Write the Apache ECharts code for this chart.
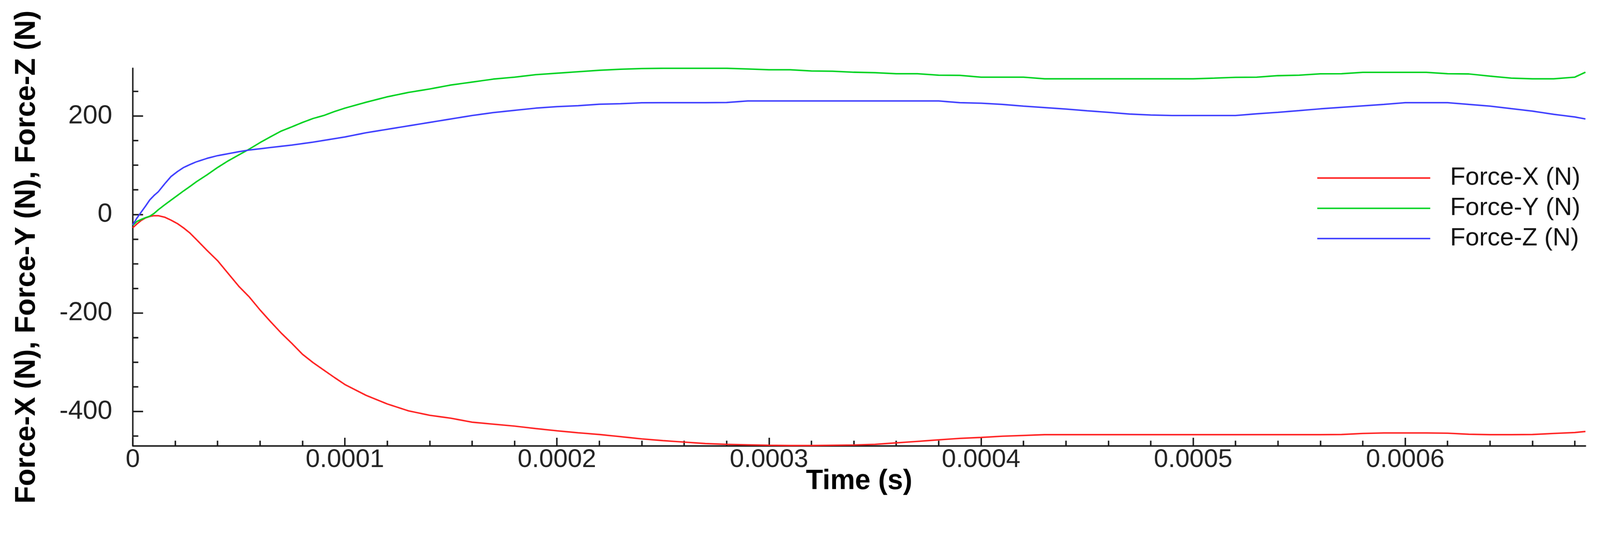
<!DOCTYPE html>
<html>
<head>
<meta charset="utf-8">
<script src="https://cdn.jsdelivr.net/npm/echarts@6/dist/echarts.min.js"></script>
<style>
html,body{margin:0;padding:0;background:#fff;overflow:hidden;}
#chart{width:4362px;height:1402px;transform-origin:0 0;}
</style>
</head>
<body>
<div id="chart"></div>
<script>
// time in microseconds (converted to seconds below)
const timeUs = [0,2,4,6,8,10,12,15,18,21,24,27,30,35,40,45,50,55,60,65,70,75,80,85,90,95,100,
110,120,130,140,150,160,170,180,190,200,210,220,230,240,250,260,270,280,290,300,310,320,330,340,350,
360,370,380,390,400,410,420,430,440,450,460,470,480,490,500,510,520,530,540,550,560,570,580,590,600,
610,620,630,640,650,660,670,680,685];

const forceX = [-27,-19,-12,-7,-4,-2.5,-2.5,-5.5,-11.5,-18.5,-27.5,-38,-51,-73,-94,-120,-146,-168,-194,-218,-241,-262,-284,-301,-316,-331,-345.5,
-367.5,-385,-399,-408,-414,-422,-426,-430,-435,-439.5,-443.5,-447,-451.5,-456,-459.5,-462.5,-465.5,-467,-468,-469,-469.5,-469.5,-469,-468.5,-467,
-464,-461,-458,-455,-453,-450.5,-449,-447.5,-447.5,-447.5,-447.5,-447.5,-447.5,-447.5,-447.5,-447.5,-447.5,-447.5,-447.5,-447.5,-447.5,-447,-445,-444,-444,
-444,-444.5,-446.5,-447.5,-447.5,-447,-445,-443,-441];

const forceY = [-22,-14,-10,-6.5,-3.5,2,9.5,19.5,29,38.5,48,57,66.5,80.5,95.5,109,121,133,146,158,169.5,178,187,195,201,209,216,
228,239,248,255,263,269,275,279,284,287,290,293,295,296.5,297,297,297,297,295.5,294,294,291.5,291,289,288,
286,286,283,282.6,279,279,279,275.6,275.6,275.6,275.6,275.6,275.6,275.6,275.6,277,278.6,279,282,283,285.7,286,288.7,288.7,288.7,
288.7,286,285.5,281,277,275.6,275.6,279,289];

const forceZ = [-21,-7,5,17,29.5,38.5,46,62,77,87,95.5,101.5,107,114,119.5,123.5,127.5,131,133.5,136,138.5,141,144,147,150.5,154,157.5,
166,173,180,187,194,201,207,211.5,216,219,221,224,225,227,227.2,227.2,227.2,227.5,230.7,230.7,230.7,230.7,230.7,230.7,230.7,
230.7,230.7,230.7,227.2,226,223.6,220.1,217.1,214.1,210.6,207.5,204,202,201,201,201,201,204.5,207.5,211,214.6,217.6,220.6,223.6,227.2,
227.2,227.2,223.6,220.1,215,210,203.5,198,194];

const seriesNames = ['Force-X (N)', 'Force-Y (N)', 'Force-Z (N)'];
const xMajorTicks = [0, 0.0001, 0.0002, 0.0003, 0.0004, 0.0005, 0.0006];
const xMinorTicks = [0.00002,0.00004,0.00006,0.00008,0.00012,0.00014,0.00016,0.00018,0.00022,0.00024,0.00026,0.00028,
0.00032,0.00034,0.00036,0.00038,0.00042,0.00044,0.00046,0.00048,0.00052,0.00054,0.00056,0.00058,0.00062,0.00064,0.00066,0.00068];
const yMajorTicks = [-400, -200, 0, 200];
const yMinorTicks = [-450,-350,-300,-250,-150,-100,-50,50,100,150,250];

const timeSec = timeUs.map(t => t * 1e-6);
const pairs = arr => timeSec.map((t, i) => [t, arr[i]]);

const FONT = '"Liberation Sans", Arial, sans-serif';
const AX = '#1a1a1a';
const COLORS = ['#ff2020', '#00d21e', '#3d3dff'];
const X_MIN = 0, X_MAX = 0.000685, Y_MIN = -470, Y_MAX = 297;

// fit the 4362x1402 design into the actual viewport
const el = document.getElementById('chart');
const s = Math.min(window.innerWidth / 4362, window.innerHeight / 1402);
el.style.transform = 'scale(' + s + ')';

const chart = echarts.init(el, null, {renderer: 'canvas', devicePixelRatio: (window.devicePixelRatio || 1) * Math.max(1, 1 / s)});
chart.setOption({
  backgroundColor: '#ffffff',
  animation: false,
  textStyle: {fontFamily: FONT},
  grid: {left: 362, right: 40, top: 186, bottom: 187.5, containLabel: false},
  legend: {
    orient: 'vertical',
    left: 3586,
    top: 446,
    itemWidth: 308,
    itemHeight: 4,
    itemGap: 14.5,
    icon: 'rect',
    data: seriesNames.map((n, i) => ({name: n, icon: 'rect', itemStyle: {color: COLORS[i]}})),
    textStyle: {fontSize: 68, color: '#111', fontFamily: FONT, lineHeight: 68, padding: [0, 0, 0, 49]}
  },
  xAxis: [{
    type: 'value', min: X_MIN, max: X_MAX, position: 'bottom',
    name: 'Time (s)', nameLocation: 'middle', nameGap: 59, nameMoveOverlap: false,
    nameTextStyle: {fontSize: 76, fontWeight: 'bold', color: '#000', fontFamily: FONT},
    axisLine: {show: true, onZero: false, lineStyle: {color: AX, width: 4}},
    axisTick: {show: true, inside: true, length: 22, customValues: xMajorTicks, lineStyle: {color: AX, width: 4}},
    axisLabel: {show: true, fontSize: 70, color: '#222', margin: 4, customValues: xMajorTicks,
      formatter: v => v === 0 ? '0' : v.toFixed(4)},
    splitLine: {show: false}
  }, {
    type: 'value', min: X_MIN, max: X_MAX, position: 'bottom', gridIndex: 0,
    axisLine: {show: false, onZero: false},
    axisTick: {show: true, inside: true, length: 14, customValues: xMinorTicks, lineStyle: {color: AX, width: 4}},
    axisLabel: {show: false},
    splitLine: {show: false}
  }],
  yAxis: [{
    type: 'value', min: Y_MIN, max: Y_MAX, position: 'left',
    name: 'Force-X (N), Force-Y (N), Force-Z (N)', nameLocation: 'middle', nameGap: 250, nameMoveOverlap: false,
    nameTextStyle: {fontSize: 78, fontWeight: 'bold', color: '#000', fontFamily: FONT},
    axisLine: {show: true, onZero: false, lineStyle: {color: AX, width: 4}},
    axisTick: {show: true, inside: true, length: 28, customValues: yMajorTicks, lineStyle: {color: AX, width: 4}},
    axisLabel: {show: true, fontSize: 72, color: '#222', margin: 56, customValues: yMajorTicks},
    splitLine: {show: false}
  }, {
    type: 'value', min: Y_MIN, max: Y_MAX, position: 'left', gridIndex: 0,
    axisLine: {show: false, onZero: false},
    axisTick: {show: true, inside: true, length: 15, customValues: yMinorTicks, lineStyle: {color: AX, width: 4}},
    axisLabel: {show: false},
    splitLine: {show: false}
  }],
  series: seriesNames.map((n, i) => ({
    name: n, type: 'line', data: pairs([forceX, forceY, forceZ][i]), symbol: 'none',
    lineStyle: {color: COLORS[i], width: 4}, itemStyle: {color: COLORS[i]}
  }))
});
</script>
</body>
</html>
